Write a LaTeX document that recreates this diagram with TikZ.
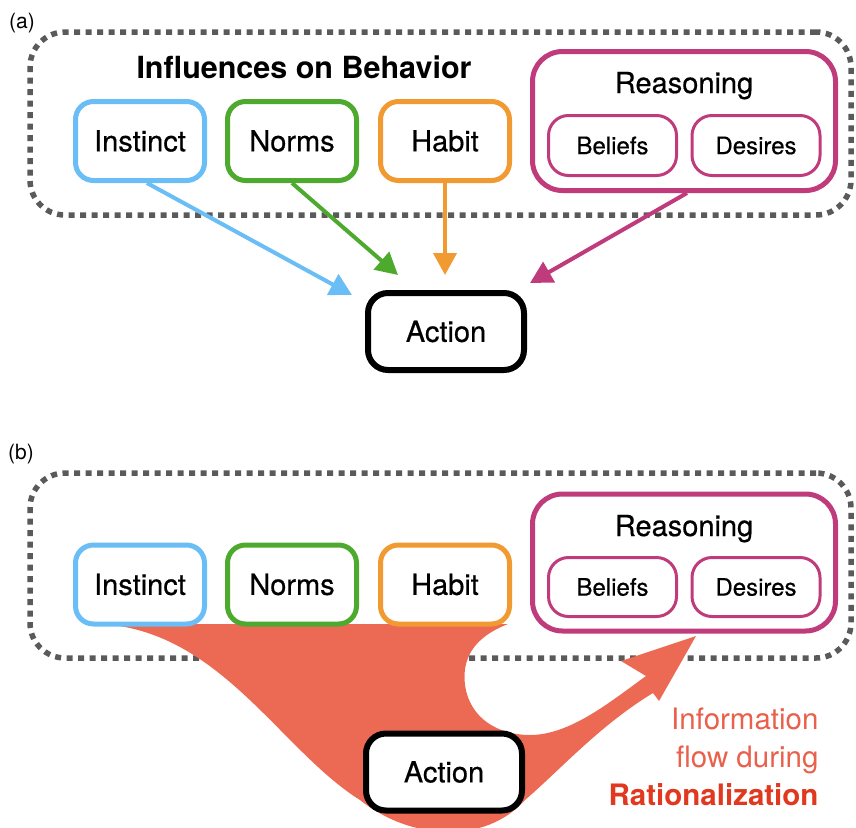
\documentclass[tikz,border=0pt]{standalone}
\usepackage{fontspec}
\setmainfont{TeX Gyre Heros}
\newfontfamily\medfont{TeX Gyre Heros}[FakeBold=0.5]
\usetikzlibrary{arrows.meta}

\definecolor{instblue}{HTML}{6BBEF5}
\definecolor{normgreen}{HTML}{4DAA2E}
\definecolor{habitorange}{HTML}{F29A32}
\definecolor{reascol}{HTML}{BF3B7B}
\definecolor{dotgray}{HTML}{5A5A5A}
\definecolor{flowfill}{HTML}{EC6A53}
\definecolor{infored}{HTML}{E9604C}
\definecolor{ratred}{HTML}{E0391F}

\tikzset{
  lbl/.style={font=\medfont\fontsize{29}{34}\selectfont},
  tag/.style={font=\fontsize{21}{24}\selectfont, anchor=base},
  inbox/.style={draw, fill=white, line width=5pt, rounded corners=18pt,
    minimum width=129pt, minimum height=79pt, inner sep=0pt, lbl},
  subbox/.style={draw=reascol, fill=white, line width=3pt, rounded corners=20pt,
    minimum width=128pt, minimum height=60pt, inner sep=0pt,
    font=\medfont\fontsize{24}{28}\selectfont},
  reasbox/.style={draw=reascol, fill=white, line width=5pt, rounded corners=30pt,
    minimum width=303pt, inner sep=0pt},
  actbox/.style={draw=black, fill=white, line width=6pt, rounded corners=20pt,
    minimum width=156pt, minimum height=77pt, inner sep=0pt, lbl},
  dotbox/.style={draw=dotgray, line width=5.5pt, dash pattern=on 6pt off 5.5pt,
    rounded corners=35pt, minimum width=821pt, inner sep=0pt},
  flow/.style={line width=4pt, -{Triangle[length=22pt,width=23pt]}},
  note/.style={text=infored, font=\fontsize{29.5}{34}\selectfont, anchor=base east},
}

\begin{document}
\begin{tikzpicture}[x=1pt,y=-1pt]
\useasboundingbox (0,0) rectangle (856,827);

% ---------- panel (a) ----------
\node[tag] (tagA) at (22,28) {(a)};
\node[dotbox, minimum height=183pt] (grpA) at (440.5,123.5) {};
\node[anchor=base, font=\bfseries\fontsize{30.5}{34}\selectfont] (title) at (304,78) {Influences on Behavior};

\node[inbox, draw=instblue] (instA) at (140,141) {Instinct};
\node[inbox, draw=normgreen] (normA) at (292,141) {Norms};
\node[inbox, draw=habitorange] (habitA) at (445,141) {Habit};

\node[reasbox, minimum height=139pt] (reasA) at (684,121) {};
\node[anchor=base, lbl] (reasAt) at (684,93) {Reasoning};
\node[subbox] (belA) at (612.5,145.5) {Beliefs};
\node[subbox] (desA) at (756,145.5) {Desires};

\node[actbox] (actA) at (446,331.5) {Action};

\coordinate (tipI) at (352,295);
\coordinate (tipN) at (398,275);
\coordinate (tipH) at (445,275);
\coordinate (tipR) at (530,283);

\draw[flow, instblue] ([xshift=7pt]instA.south) -- (tipI);
\draw[flow, normgreen] (normA.south) -- (tipN);
\draw[flow, habitorange] (habitA.south) -- (tipH);
\draw[flow, reascol] ([xshift=3pt]reasA.south) -- (tipR);

% ---------- panel (b) ----------
\node[tag] (tagB) at (21,459) {(b)};
\node[dotbox, minimum height=185pt] (grpB) at (440.5,565.5) {};

% information flow back from the action up to reasoning
\fill[flowfill] (100,624) -- (508,624)
  .. controls (472,638) and (462,660) .. (465,685)
  .. controls (470,720) and (500,735) .. (530,735)
  .. controls (570,735) and (610,702) .. (646,676)
  -- (621,661) -- (696,636) -- (659,701) -- (653,693)
  .. controls (600,725) and (560,770) .. (525,800)
  .. controls (485,845) and (410,840) .. (360,800)
  .. controls (280,750) and (220,630) .. (100,624) -- cycle;

\node[inbox, draw=instblue] (instB) at (140,584.5) {Instinct};
\node[inbox, draw=normgreen] (normB) at (292,584.5) {Norms};
\node[inbox, draw=habitorange] (habitB) at (445,584.5) {Habit};

\node[reasbox, minimum height=137pt] (reasB) at (684,562.5) {};
\node[anchor=base, lbl] (reasBt) at (684,536) {Reasoning};
\node[subbox, minimum height=59pt] (belB) at (612.5,587) {Beliefs};
\node[subbox, minimum height=59pt] (desB) at (756,587) {Desires};

\node[actbox] (actB) at (444,772) {Action};

\node[note] (inf1) at (822,729) {Information};
\node[note] (inf2) at (822,767) {flow during};
\node[note, text=ratred, font=\bfseries\fontsize{29.5}{34}\selectfont] (inf3) at (822,805) {Rationalization};
\end{tikzpicture}
\end{document}
